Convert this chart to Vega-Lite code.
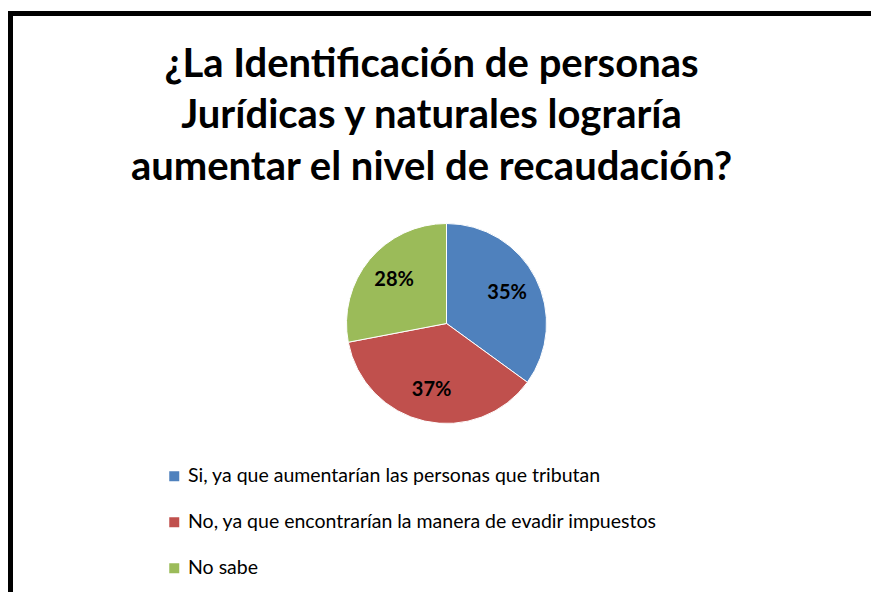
{
  "$schema": "https://vega.github.io/schema/vega-lite/v6.json",
  "width": 872,
  "height": 620,
  "autosize": {"type": "none"},
  "padding": {"left": 10.5, "top": 13.5, "right": 0, "bottom": 0},
  "background": "white",
  "view": {"stroke": "black", "strokeWidth": 5, "fill": "white"},
  "config": {"view": {"stroke": "black", "strokeWidth": 5}},
  "title": {
    "text": ["¿La Identificación de personas", "Jurídicas  y naturales lograría", "aumentar el nivel de recaudación?"],
    "font": "Lato",
    "fontSize": 40,
    "fontWeight": "bold",
    "lineHeight": 51.5,
    "offset": -174,
    "dx": -15,
    "anchor": "middle",
    "color": "black"
  },
  "data": {
    "values": [
      {"cat": "Si, ya que aumentarían las personas que tributan", "pct": 35, "label": "35%", "ord": 1},
      {"cat": "No, ya que encontrarían la manera de evadir impuestos", "pct": 37, "label": "37%", "ord": 2},
      {"cat": "No sabe", "pct": 28, "label": "28%", "ord": 3}
    ]
  },
  "encoding": {
    "theta": {"field": "pct", "type": "quantitative", "stack": true},
    "order": {"field": "ord", "type": "quantitative"}
  },
  "layer": [
    {
      "mark": {"type": "arc", "outerRadius": 100, "stroke": "white", "strokeWidth": 1},
      "encoding": {
        "color": {
          "field": "cat",
          "type": "nominal",
          "sort": null,
          "scale": {
            "domain": ["Si, ya que aumentarían las personas que tributan", "No, ya que encontrarían la manera de evadir impuestos", "No sabe"],
            "range": ["#4F81BD", "#C0504D", "#9BBB59"]
          },
          "legend": {
            "title": null,
            "orient": "none",
            "legendX": 154,
            "legendY": 453,
            "symbolType": "square",
            "symbolSize": 100,
            "symbolStrokeWidth": 0,
            "labelFont": "Lato",
            "labelFontSize": 19.5,
            "labelColor": "black",
            "labelLimit": 700,
            "labelOffset": 4,
            "rowPadding": 25,
            "padding": 0
          }
        }
      }
    },
    {
      "mark": {"type": "text", "radius": 68, "fontSize": 20, "fontWeight": "bold", "font": "Lato", "color": "black"},
      "encoding": {"text": {"field": "label", "type": "nominal"}}
    }
  ]
}
